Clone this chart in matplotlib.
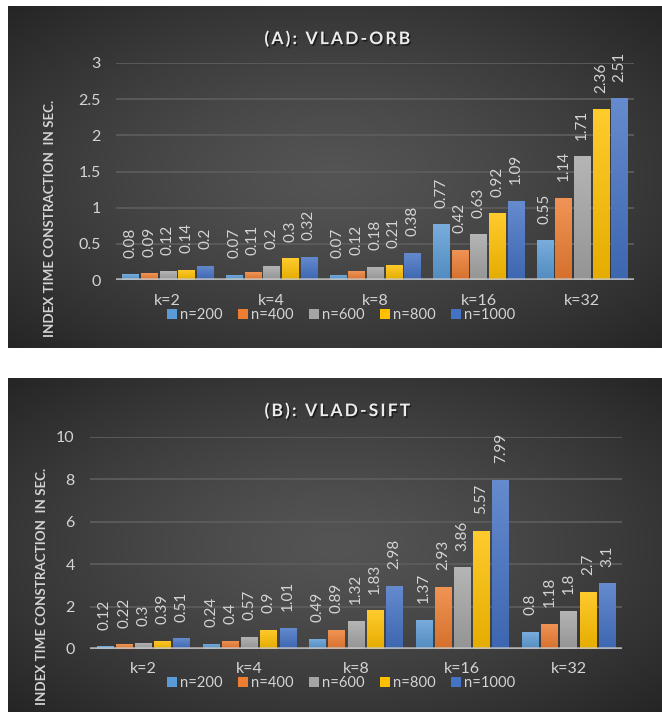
import numpy as np
import matplotlib
matplotlib.use("Agg")
import matplotlib.pyplot as plt
import matplotlib.patheffects as pe
import matplotlib.transforms as mtransforms
from matplotlib.patches import Patch
from matplotlib.colors import to_rgb

plt.rcParams['font.family'] = ['Lato', 'DejaVu Sans']

categories = ["k=2", "k=4", "k=8", "k=16", "k=32"]
series = ["n=200", "n=400", "n=600", "n=800", "n=1000"]
colors = ["#5B9BD5", "#ED7D31", "#A5A5A5", "#FFC000", "#4472C4"]

# VLAD-ORB index construction time (sec), one list per n
orb_200 = [0.08, 0.07, 0.07, 0.77, 0.55]
orb_400 = [0.09, 0.11, 0.12, 0.42, 1.14]
orb_600 = [0.12, 0.2, 0.18, 0.63, 1.71]
orb_800 = [0.14, 0.3, 0.21, 0.92, 2.36]
orb_1000 = [0.2, 0.32, 0.38, 1.09, 2.51]

# VLAD-SIFT index construction time (sec)
sift_200 = [0.12, 0.24, 0.49, 1.37, 0.8]
sift_400 = [0.22, 0.4, 0.89, 2.93, 1.18]
sift_600 = [0.3, 0.57, 1.32, 3.86, 1.8]
sift_800 = [0.39, 0.9, 1.83, 5.57, 2.7]
sift_1000 = [0.51, 1.01, 2.98, 7.99, 3.1]

ylabel = "INDEX TIME CONSTRACTION  IN SEC."
W, H = 662, 712
TXT = "#d4d4d4"


def px(x0, y0, x1, y1):
    # pixel box (top-left origin) -> figure fraction rect
    return [x0 / W, 1 - y1 / H, (x1 - x0) / W, (y1 - y0) / H]


def mix(c, other, t):
    c = np.array(to_rgb(c))
    return tuple(c + (np.array(other) - c) * t)


def background(fig, rect):
    bg = fig.add_axes(rect)
    bg.set_axis_off()
    ny, nx = 200, 300
    yy, xx = np.mgrid[0:1:ny * 1j, 0:1:nx * 1j]
    r = np.sqrt((xx - 0.5) ** 2 + (yy - 0.5) ** 2) / np.sqrt(0.5)
    v = 0.33 - (0.33 - 0.145) * np.clip(r, 0, 1) ** 1.3
    img = np.dstack([v, v, v])
    bg.imshow(img, extent=(0, 1, 0, 1), aspect='auto', interpolation='bilinear')
    bg.set_xlim(0, 1)
    bg.set_ylim(0, 1)


def panel(fig, ax_rect, title, title_y, data, ymax, ystep, ylab_xy, cat_y, leg_y):
    ax = fig.add_axes(ax_rect)
    ax.set_facecolor('none')
    step, width = 0.18, 0.157
    x = np.arange(len(categories))
    for i, vals in enumerate(data):
        xs = x + (i - 2) * step
        bars = ax.bar(xs, vals, width, color=colors[i], zorder=3)
        top = mix(colors[i], (1, 1, 1), 0.18)
        bot = mix(colors[i], (0, 0, 0), 0.1)
        grad = np.linspace(0, 1, 64)[:, None, None]
        img = np.array(top) * (1 - grad) + np.array(bot) * grad
        for b, v in zip(bars, vals):
            im = ax.imshow(img, extent=(b.get_x(), b.get_x() + width, 0, v),
                           aspect='auto', zorder=3.1, interpolation='bilinear')
            im.set_clip_path(b)
            ax.annotate(f"{v:g}", (b.get_x() + width / 2, v), xytext=(0, 12),
                        textcoords='offset points', rotation=90, ha='center',
                        va='bottom', fontsize=11, color=TXT)
    ax.set_xlim(-0.5, len(categories) - 0.5)
    ax.set_ylim(0, ymax)
    ticks = np.arange(0, ymax + ystep / 2, ystep)
    ax.set_yticks(ticks)
    ax.set_yticklabels([f"{t:g}" for t in ticks])
    ax.set_xticks([])
    ax.tick_params(axis='y', length=0, pad=11, labelsize=11.5, labelcolor=TXT)
    for s in ax.spines.values():
        s.set_visible(False)
    ax.grid(axis='y', color='#5c5c5c', lw=1.3, zorder=1)
    ax.axhline(0, color='#c8c8c8', lw=2.6, alpha=0.8, zorder=5)

    tr = mtransforms.blended_transform_factory(ax.transData, fig.transFigure)
    for xi, c in zip(x, categories):
        ax.text(xi, 1 - cat_y / H, c, transform=tr, ha='center', va='center',
                fontsize=11.5, color=TXT)

    fig.text(337 / W, 1 - title_y / H, "\u2009".join(title), ha='center', va='center',
             fontsize=12.5, fontweight='bold', color='#ececec',
             path_effects=[pe.withSimplePatchShadow(offset=(1, -1.2), shadow_rgbFace='black', alpha=0.55)])
    fig.text(ylab_xy[0] / W, 1 - ylab_xy[1] / H, ylabel, rotation=90, ha='center',
             va='center', fontsize=9.6, fontweight='bold', color=TXT)

    handles = [Patch(facecolor=c, edgecolor='none') for c in colors]
    fig.legend(handles, series, loc='center', bbox_to_anchor=(341 / W, 1 - leg_y / H),
               bbox_transform=fig.transFigure, ncol=5, frameon=False, fontsize=10.6,
               labelcolor=TXT, handlelength=0.68, handleheight=0.68, handletextpad=0.2,
               columnspacing=1.05, borderpad=0)
    return ax


fig = plt.figure(figsize=(W / 100, H / 100), dpi=100, facecolor='white')
background(fig, px(8, 6, 662, 348))
background(fig, px(8, 378, 662, 712))

panel(fig, px(116, 63, 634, 280), "(A): VLAD-ORB", 39,
      [orb_200, orb_400, orb_600, orb_800, orb_1000], 3, 0.5, (50, 218), 301, 315)
panel(fig, px(90, 437, 622, 649), "(B): VLAD-SIFT", 411,
      [sift_200, sift_400, sift_600, sift_800, sift_1000], 10, 2, (42, 586), 669, 683)

fig.savefig("out.png", dpi=100, facecolor='white')
